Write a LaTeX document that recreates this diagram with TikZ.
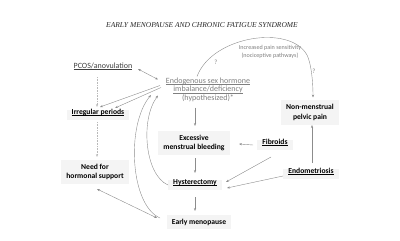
\documentclass[tikz,border=0pt]{standalone}
\usepackage{fontspec}
\setmainfont{Carlito}
\newfontfamily\titlefont{Liberation Serif}
\usetikzlibrary{arrows.meta,calc}
\newcommand\myul[1]{\underline{\smash{#1}}}
\definecolor{txtgray}{HTML}{7F7F7F}
\definecolor{dkgray}{HTML}{404040}
\definecolor{linegray}{HTML}{8C8C8C}
\definecolor{bgfill}{HTML}{F4F4F4}
\begin{document}
\begin{tikzpicture}[x=1pt,y=-1pt,
  lbl/.style={font=\fontsize{7.6}{9.5}\selectfont\bfseries, align=center, fill=bgfill, inner xsep=5pt, inner ysep=4pt},
  plain/.style={font=\fontsize{8}{8.7}\selectfont, align=center, inner sep=1pt},
  arr/.style={draw=linegray, line width=0.4pt, -{Stealth[length=3pt,width=2.2pt]}},
  darr/.style={draw=linegray, line width=0.4pt, {Stealth[length=3pt,width=2.2pt]}-{Stealth[length=3pt,width=2.2pt]}},
  dotarr/.style={arr, draw=gray!55, dash pattern=on 0.8pt off 0.8pt},
  qm/.style={font=\fontsize{6.5}{7}\selectfont, text=txtgray, inner sep=0pt}]
\useasboundingbox (0,0) rectangle (400,241);

\node[text=black!85] (title) at (202,25) {\titlefont\itshape\fontsize{7.5}{8}\selectfont EARLY MENOPAUSE AND CHRONIC FATIGUE SYNDROME};

\node[plain, text=dkgray] (pcos) at (103,69) {\myul{PCOS/anovulation}};
\node[plain, text=txtgray] (endo) at (208,92.5) {\myul{Endogenous sex hormone}\\ \myul{imbalance/deficiency}\\ (hypothesized)*};
\node[plain, text=txtgray, font=\fontsize{6.1}{8}\selectfont] (pain) at (270,52) {Increased pain sensitivity\\ (nociceptive pathways)};
\node[qm] (q1) at (216,62) {?};
\node[qm] (q2) at (314,71) {?};

\node[lbl] (irr) at (98,115) {\myul{Irregular periods}};
\node[lbl] (need) at (95,172) {Need for\\ hormonal support};
\node[lbl] (exc) at (194,143) {Excessive\\ menstrual bleeding};
\node[lbl] (fib) at (275,145) {\myul{Fibroids}};
\node[lbl] (nmpp) at (310,112.5) {Non-menstrual\\ pelvic pain};
\node[lbl] (endom) at (311,174) {\myul{Endometriosis}};
\node[lbl] (hyst) at (195,185) {\myul{Hysterectomy}};
\node[lbl] (early) at (199,222) {Early menopause};

% connectors
\draw[darr] ($(pcos.center)+(35,0)$) -- ($(endo.center)+(-50,-13)$);
\draw[dotarr] ($(pcos.center)+(-6,8)$) -- ($(irr.center)+(-1,-8)$);
\draw[arr] ($(endo.center)+(-48,-7)$) -- ($(irr.center)+(2,-8)$);
\draw[arr] ($(endo.center)+(-47,-5)$) -- ($(irr.center)+(17,-7)$);
\draw[arr] ($(endo.center)+(-13,15)$) -- ($(exc.center)+(1,-17)$);
\draw[arr] ($(fib.center)+(-22,0)$) -- ($(exc.center)+(45,1)$);
\draw[arr] ($(exc.center)+(1,15)$) -- ($(hyst.center)+(0,-12)$);
\draw[arr] ($(hyst.center)+(0,12)$) -- ($(early.center)+(-4,-11)$);
\draw[arr] ($(fib.center)+(-4,12)$) -- ($(hyst.center)+(31,-3)$);
\draw[arr] ($(endom.center)+(-28,2)$) -- ($(hyst.center)+(32,3)$);
\draw[arr] ($(endom.center)+(1,-11)$) -- ($(nmpp.center)+(2,12.5)$);
\draw[dotarr] ($(irr.center)+(-1,7)$) -- ($(need.center)+(2,-15)$);
\draw[darr] ($(need.center)+(2,17)$) -- ($(early.center)+(-42,-4)$);
\draw[arr] ($(hyst.center)+(-27,0)$) .. controls (145,175) and (140,120) .. ($(endo.center)+(-50,3)$);
\draw[arr] ($(early.center)+(-39,-4)$) .. controls (130,205) and (126,125) .. ($(endo.center)+(-57,2.5)$);
\coordinate (arcmid) at (307,55);
\draw[arr] ($(endo.center)+(-11,-16)$) .. controls (212,36) and (290,24) .. (arcmid) .. controls (311,63) and (313,80) .. ($(nmpp.center)+(3,-15)$);
\end{tikzpicture}
\end{document}
